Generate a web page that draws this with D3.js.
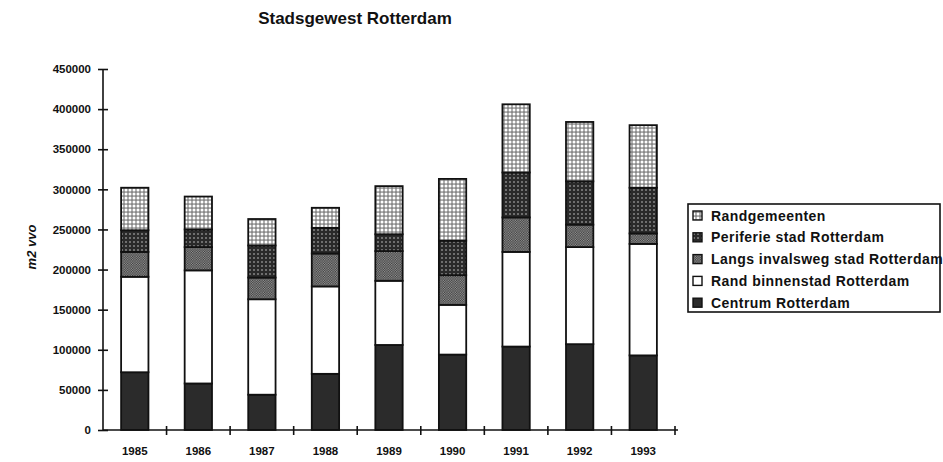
<!DOCTYPE html>
<html>
<head>
<meta charset="utf-8">
<script src="https://cdn.jsdelivr.net/npm/d3@7/dist/d3.min.js"></script>
<style>
  html, body { margin: 0; padding: 0; background: #fff; }
  svg { display: block; font-family: "Liberation Sans", Arial, Helvetica, sans-serif; }
</style>
</head>
<body>
<svg id="chart" width="943" height="462"></svg>
<script>
// Floor space (m2 vvo) per area of the Rotterdam urban region, 1985-1993
const years = ["1985", "1986", "1987", "1988", "1989", "1990", "1991", "1992", "1993"];
const seriesNames = [
  "Centrum Rotterdam",
  "Rand binnenstad Rotterdam",
  "Langs invalsweg stad Rotterdam",
  "Periferie stad Rotterdam",
  "Randgemeenten"
];
const centrum      = [72000, 58000, 44000, 70000, 106000, 94000, 104000, 107000, 93000];
const randBinnen   = [119000, 141000, 119000, 109000, 80000, 62000, 118000, 121000, 139000];
const langsInvals  = [31000, 29000, 27000, 41000, 37000, 37000, 43000, 28000, 13000];
const periferie    = [27000, 22000, 40000, 32000, 21000, 43000, 56000, 54000, 57000];
const randgemeente = [53000, 41000, 33000, 25000, 60000, 77000, 85000, 74000, 78000];
const yTicks = [0, 50000, 100000, 150000, 200000, 250000, 300000, 350000, 400000, 450000];

const seriesValues = [centrum, randBinnen, langsInvals, periferie, randgemeente];
const fills = ["#2b2b2b", "#ffffff", "url(#pLangs)", "url(#pPeri)", "url(#pRand)"];

const svg = d3.select("#chart");
const defs = svg.append("defs");

// light stipple: white dots on a grey ground
const pRand = defs.append("pattern").attr("id", "pRand")
  .attr("patternUnits", "userSpaceOnUse").attr("width", 4).attr("height", 4);
pRand.append("rect").attr("width", 4).attr("height", 4).attr("fill", "#8a8a8a");
pRand.append("circle").attr("cx", 2).attr("cy", 2).attr("r", 1.5).attr("fill", "#fff");

// dark ground with grey dots
const pPeri = defs.append("pattern").attr("id", "pPeri")
  .attr("patternUnits", "userSpaceOnUse").attr("width", 4).attr("height", 4);
pPeri.append("rect").attr("width", 4).attr("height", 4).attr("fill", "#2a2a2a");
pPeri.append("rect").attr("x", 1.2).attr("y", 1.2).attr("width", 1.6).attr("height", 1.6).attr("fill", "#959595");

// fine checker
const pLangs = defs.append("pattern").attr("id", "pLangs")
  .attr("patternUnits", "userSpaceOnUse").attr("width", 2.4).attr("height", 2.4);
pLangs.append("rect").attr("width", 2.4).attr("height", 2.4).attr("fill", "#353535");
pLangs.append("rect").attr("x", 0).attr("y", 0).attr("width", 1.2).attr("height", 1.2).attr("fill", "#9a9a9a");
pLangs.append("rect").attr("x", 1.2).attr("y", 1.2).attr("width", 1.2).attr("height", 1.2).attr("fill", "#9a9a9a");

const x = d3.scaleBand().domain(years).range([103, 675]).padding(0);
const y = d3.scaleLinear().domain([0, 450000]).range([430, 69]);
const barW = x.bandwidth() * 0.43;

// Stack the series per year
const rows = years.map((yr, i) => {
  const r = { year: yr };
  seriesNames.forEach((s, k) => { r[s] = seriesValues[k][i]; });
  return r;
});
const stacked = d3.stack().keys(seriesNames)(rows);

// Title
svg.append("text")
  .attr("x", 355).attr("y", 24)
  .attr("text-anchor", "middle")
  .attr("font-size", 17).attr("font-weight", "bold").attr("fill", "#111")
  .text("Stadsgewest Rotterdam");

// Bars
stacked.forEach((layer, k) => {
  svg.append("g").selectAll("rect").data(layer).enter().append("rect")
    .attr("x", d => x(d.data.year) + (x.bandwidth() - barW) / 2)
    .attr("y", d => y(d[1]))
    .attr("width", barW)
    .attr("height", d => y(d[0]) - y(d[1]))
    .attr("fill", fills[k])
    .attr("stroke", "#111")
    .attr("stroke-width", 1.8);
});

// Y axis
const yAxis = svg.append("g").attr("transform", "translate(103,0)")
  .call(d3.axisLeft(y).tickValues(yTicks).tickFormat(d3.format("d")).tickSize(5).tickPadding(7));
yAxis.select(".domain").attr("stroke", "#111").attr("stroke-width", 1.6).attr("d", `M0,${y(450000)}V${y(0)}`);
yAxis.selectAll(".tick line").attr("x1", -5).attr("x2", 5).attr("stroke", "#111").attr("stroke-width", 1.6);
yAxis.selectAll(".tick text").attr("font-size", 11.5).attr("font-weight", "bold").attr("fill", "#111")
  .attr("font-family", "Liberation Sans, Arial, sans-serif");

// X axis: ticks at category boundaries, labels centred below bars
const xAxisG = svg.append("g");
xAxisG.append("line").attr("x1", 103).attr("x2", 678).attr("y1", y(0)).attr("y2", y(0))
  .attr("stroke", "#111").attr("stroke-width", 1.6);
xAxisG.selectAll("line.tk").data(years).enter().append("line").attr("class", "tk")
  .attr("x1", d => x(d) + x.bandwidth()).attr("x2", d => x(d) + x.bandwidth())
  .attr("y1", y(0) - 4).attr("y2", y(0) + 5)
  .attr("stroke", "#111").attr("stroke-width", 1.6);
xAxisG.selectAll("text").data(years).enter().append("text")
  .attr("x", d => x(d) + x.bandwidth() / 2).attr("y", 455)
  .attr("text-anchor", "middle").attr("font-size", 11.5).attr("font-weight", "bold").attr("fill", "#111")
  .text(d => d);

// Y axis title
svg.append("text")
  .attr("transform", "translate(36,247) rotate(-90)")
  .attr("text-anchor", "middle")
  .attr("font-size", 13).attr("font-weight", "bold").attr("font-style", "italic").attr("fill", "#111")
  .text("m2 vvo");

// Legend
const legend = svg.append("g");
legend.append("rect").attr("x", 688).attr("y", 204).attr("width", 252).attr("height", 108)
  .attr("fill", "#fff").attr("stroke", "#111").attr("stroke-width", 1.6);
const legendOrder = [4, 3, 2, 1, 0];
legendOrder.forEach((k, i) => {
  const cy = 215.5 + i * 21.8;
  legend.append("rect").attr("x", 693).attr("y", cy - 4.5).attr("width", 9).attr("height", 9)
    .attr("fill", fills[k]).attr("stroke", "#111").attr("stroke-width", 1.4);
  legend.append("text").attr("x", 711).attr("y", cy + 5)
    .attr("font-size", 14).attr("font-weight", "bold").attr("fill", "#111")
    .attr("letter-spacing", 0.45)
    .text(seriesNames[k]);
});
</script>
</body>
</html>
